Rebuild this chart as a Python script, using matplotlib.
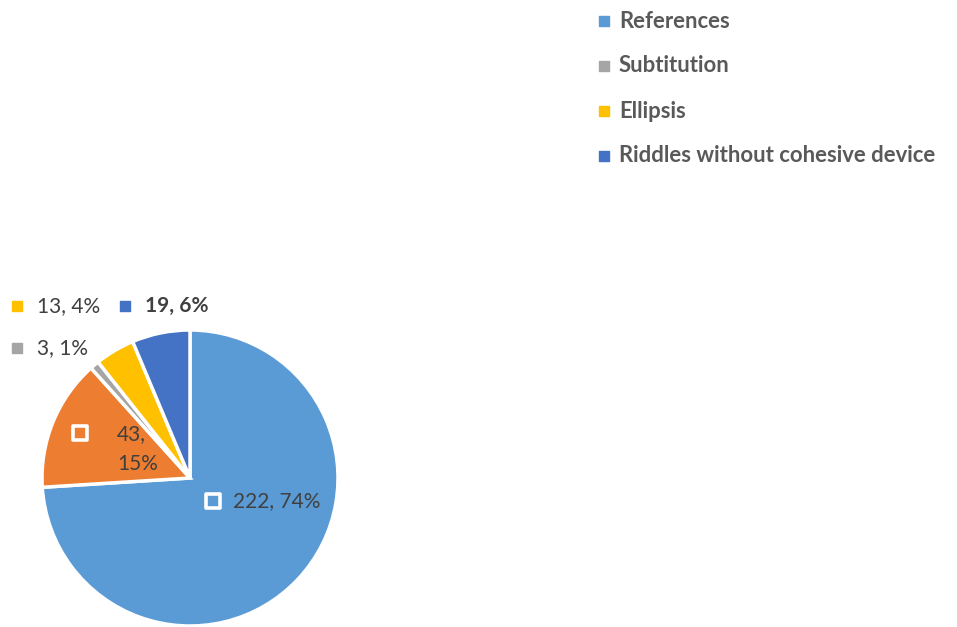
import matplotlib.pyplot as plt

plt.rcParams['font.family'] = ['Lato', 'DejaVu Sans']

# Riddle counts by cohesive device
categories = ['References', 'Conjunction', 'Subtitution', 'Ellipsis',
              'Riddles without cohesive device']
counts = [222, 43, 3, 13, 19]
percents = [74, 15, 1, 4, 6]
colors = ['#5B9BD5', '#ED7D31', '#A5A5A5', '#FFC000', '#4472C4']
legend_items = [0, 2, 3, 4]

W, H = 957, 627
fig = plt.figure(figsize=(W / 100, H / 100), dpi=100)
ax = fig.add_axes([0, 0, 1, 1])

cx, cy, r = 190, H - 478, 148
wedges, _ = ax.pie(counts, colors=colors, startangle=90, counterclock=False,
                   center=(cx, cy), radius=r,
                   wedgeprops=dict(edgecolor='white', linewidth=2.5))
ax.set_xlim(0, W)
ax.set_ylim(0, H)
ax.set_aspect('equal')
ax.axis('off')

txt = '#404040'

def data_label(x, y, i, lines, bold=False, inside=False, tx=None, ty=None):
    # key square next to the label
    if inside:
        ax.scatter([x], [H - y], marker='s', s=95, facecolor=colors[i],
                   edgecolor='white', linewidth=2.6, zorder=5)
    else:
        ax.scatter([x], [H - y], marker='s', s=45, color=colors[i], zorder=5)
    tx = x + 20 if tx is None else tx
    ty = y if ty is None else ty
    ax.text(tx, H - ty, lines, ha='left', va='center', fontsize=15,
            color=txt, fontweight='bold' if bold else 'normal',
            linespacing=1.6, zorder=6)

lab = [f'{counts[i]}, {percents[i]}%' for i in range(len(counts))]
data_label(213, 501, 0, lab[0], inside=True)
data_label(80, 433, 1, f'{counts[1]},\n{percents[1]}%', inside=True,
           tx=117, ty=449)
data_label(17, 348, 2, lab[2])
data_label(17, 306, 3, lab[3])
data_label(125, 306, 4, lab[4], bold=True)

# legend (top right)
for k, i in enumerate(legend_items):
    y = H - (21 + 45 * k)
    ax.scatter([604], [y], marker='s', s=45, color=colors[i])
    ax.text(619, y, categories[i], ha='left', va='center', fontsize=15.9,
            fontweight='bold', color='#595959')

fig.savefig('out.png', dpi=100)
